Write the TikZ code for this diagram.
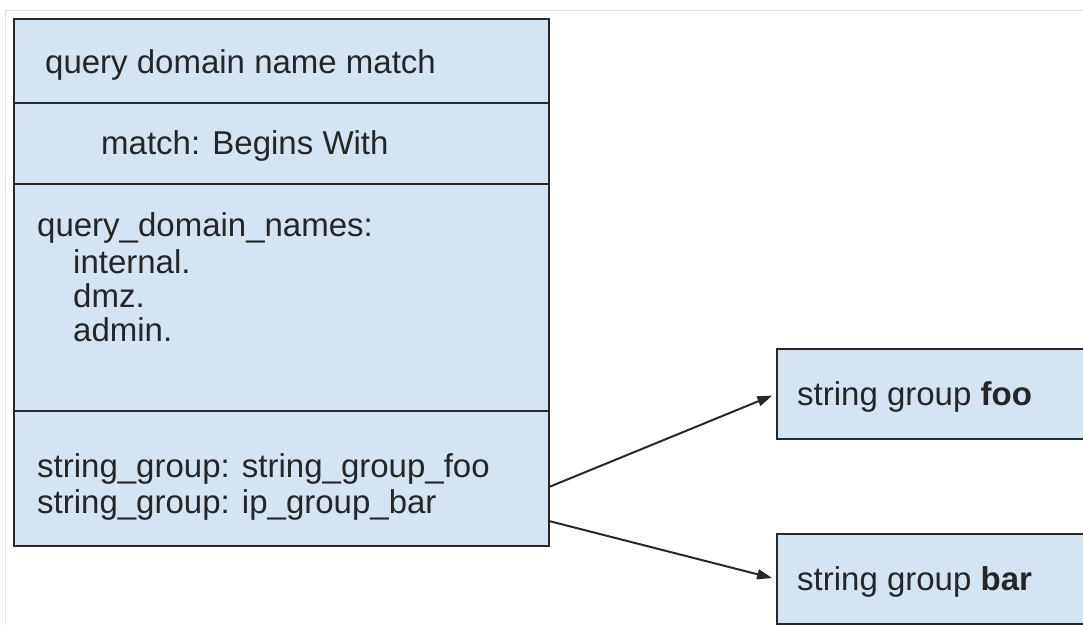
\documentclass[tikz,border=0pt]{standalone}
\usepackage{fontspec}
\setmainfont{Liberation Sans}
\usetikzlibrary{arrows.meta}
\definecolor{boxfill}{RGB}{212,228,243}
\definecolor{boxline}{RGB}{40,40,40}
\definecolor{txt}{RGB}{38,38,38}
\begin{document}
\begin{tikzpicture}[x=1pt,y=-1pt,
  sect/.style={draw=boxline, fill=boxfill, line width=2pt, anchor=north west, inner sep=0pt, minimum width=535pt},
  grp/.style={draw=boxline, fill=boxfill, line width=2pt, anchor=north west, inner sep=0pt, minimum width=320pt, minimum height=90pt},
  lbl/.style={anchor=base west, inner sep=0pt, text=txt, font=\fontsize{33}{36}\selectfont},
  conn/.style={draw=boxline, line width=2pt, shorten >=4pt, -{Triangle[length=15pt,width=10pt]}}]
\useasboundingbox (0,0) rectangle (1083,625);
\draw[black!12, line width=1pt] (5,625) -- (5,10) -- (1083,10);
% main box sections
\node[sect, minimum height=84pt] (title) at (13,18) {};
\node[sect, minimum height=81pt] (mode) at (13,102) {};
\node[sect, minimum height=227pt] (names) at (13,183) {};
\node[sect, minimum height=135pt] (groups) at (13,410) {};
% texts
\node[lbl] (t1) at (45,73) {query domain name match};
\node[lbl] (t2) at (101,154) {match: Begins With};
\node[lbl] (t3) at (37,236) {query\_domain\_names:};
\node[lbl] (t4) at (73,273) {internal.};
\node[lbl] (t5) at (73,307) {dmz.};
\node[lbl] (t6) at (73,341) {admin.};
\node[lbl] (t7) at (37,477) {string\_group: string\_group\_foo};
\node[lbl] (t8) at (37,513) {string\_group: ip\_group\_bar};
% right boxes
\node[grp] (foo) at (776,348) {};
\node[grp] (bar) at (776,533) {};
\node[lbl] (tf) at (797,405) {string group \textbf{foo}};
\node[lbl] (tb) at (797,590) {string group \textbf{bar}};
% connectors
\coordinate (s1) at (549,487);
\coordinate (s2) at (549,521);
\draw[conn] (s1) -- (foo.west);
\draw[conn] (s2) -- (bar.west);
\end{tikzpicture}
\end{document}
